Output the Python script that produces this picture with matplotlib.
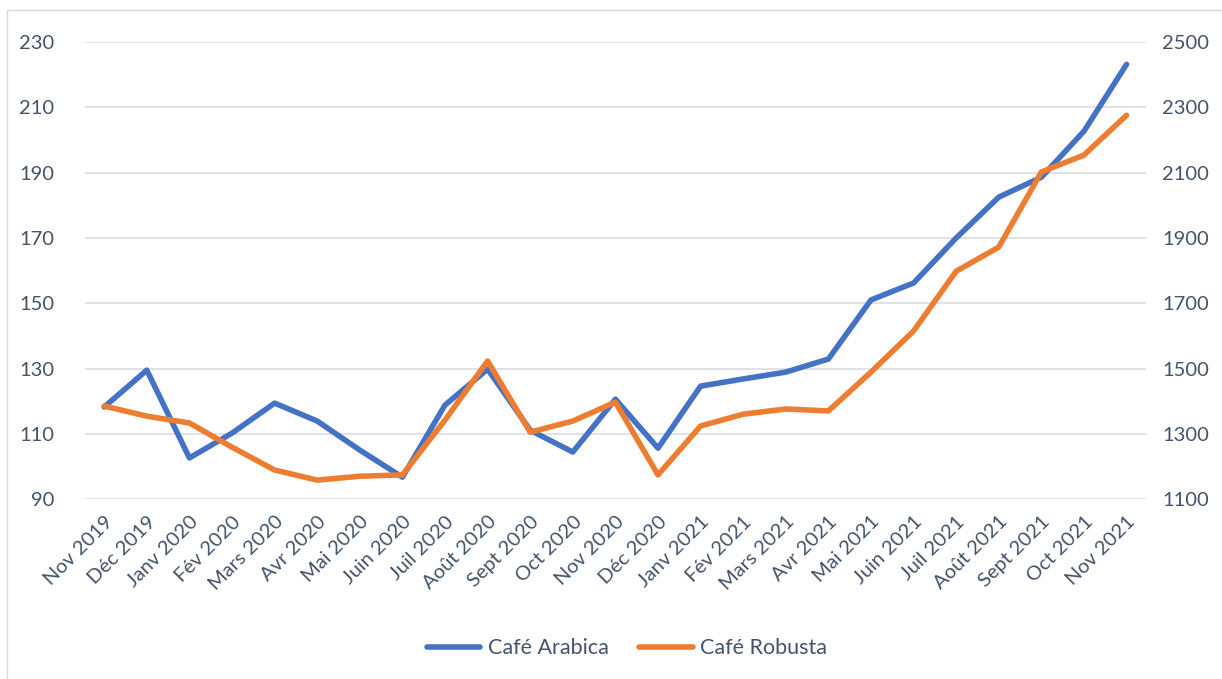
import matplotlib.pyplot as plt
from matplotlib.patches import Rectangle

months = ['Nov 2019', 'Déc 2019', 'Janv 2020', 'Fév 2020', 'Mars 2020', 'Avr 2020',
          'Mai 2020', 'Juin 2020', 'Juil 2020', 'Août 2020', 'Sept 2020', 'Oct 2020',
          'Nov 2020', 'Déc 2020', 'Janv 2021', 'Fév 2021', 'Mars 2021', 'Avr 2021',
          'Mai 2021', 'Juin 2021', 'Juil 2021', 'Août 2021', 'Sept 2021', 'Oct 2021',
          'Nov 2021']
arabica = [118.2, 129.5, 102.6, 110.2, 119.4, 113.9, 105.0, 96.7, 118.8, 129.8,
           111.1, 104.4, 120.6, 105.6, 124.6, 126.8, 128.9, 132.9, 151.0, 156.2,
           170.0, 182.5, 188.6, 202.7, 223.2]
robusta = [1385, 1354, 1333, 1259, 1189, 1158, 1170, 1174, 1342, 1523,
           1305, 1339, 1397, 1174, 1324, 1360, 1376, 1370, 1489, 1615,
           1798, 1872, 2102, 2154, 2276]

blue = '#4472C4'
orange = '#ED7D31'
txt = '#44546A'
plt.rcParams['font.family'] = ['Lato', 'DejaVu Sans']

fig = plt.figure(figsize=(12.22, 6.79), dpi=100)
ax = fig.add_axes([0.0696, 0.265, 0.868, 0.673])
ax2 = ax.twinx()

x = range(len(months))
l1, = ax.plot(x, arabica, color=blue, lw=4.0, solid_capstyle='round', zorder=3)
l2, = ax2.plot(x, robusta, color=orange, lw=4.0, solid_capstyle='round', zorder=3)

ax.set_xlim(-0.45, len(months) - 0.55)
ax.set_ylim(90, 230)
ax.set_yticks(range(90, 231, 20))
ax2.set_ylim(1100, 2500)
ax2.set_yticks(range(1100, 2501, 200))

ax.set_xticks(list(x))
ax.set_xticklabels(months, rotation=45, ha='right', rotation_mode='anchor')
ax.grid(axis='y', color='#D9DDE3', lw=1.2)
ax.set_axisbelow(True)

for a in (ax, ax2):
    for s in a.spines.values():
        s.set_visible(False)
    a.tick_params(length=0, labelsize=14.5, colors=txt)
ax.tick_params(axis='y', pad=22)
ax2.tick_params(axis='y', pad=12)
ax.tick_params(axis='x', pad=10)

fig.legend([l1, l2], ['Café Arabica', 'Café Robusta'], loc='center',
           bbox_to_anchor=(0.513, 0.045), ncol=2, frameon=False, fontsize=15.5,
           labelcolor=txt, handlelength=2.5, columnspacing=1.4, handletextpad=0.35)

fig.patches.append(Rectangle((0.006, -0.01), 1.0, 0.995, transform=fig.transFigure,
                             fill=False, edgecolor='#D9D9D9', lw=1))

fig.savefig('out.png', dpi=100)
